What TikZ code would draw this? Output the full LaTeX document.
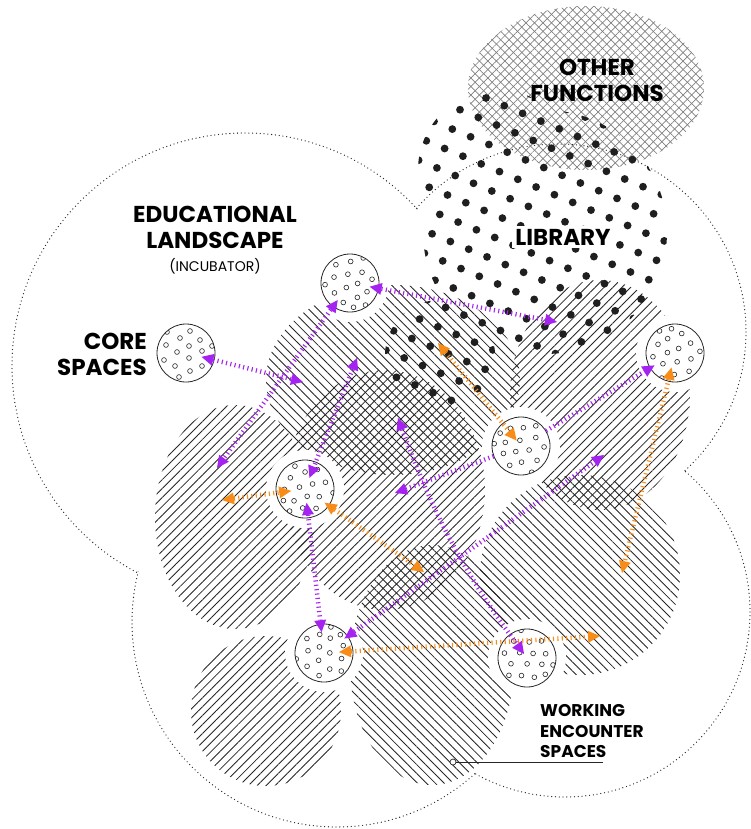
\documentclass[tikz,border=0pt]{standalone}
\usepackage{fontspec}
\setmainfont{Poppins}
\usetikzlibrary{arrows.meta, patterns.meta}

\definecolor{LinkViolet}{RGB}{165,35,240}
\definecolor{LinkOrange}{RGB}{247,140,25}
\colorlet{HatchLine}{black!85}

\tikzset{
  outline/.style={draw=black!85, line width=1.3pt, dash pattern=on 0pt off 3.8pt, line cap=round},
  ne hatch/.style={pattern={Lines[angle=45,distance=6.3pt,line width=0.85pt]}, pattern color=HatchLine},
  nw hatch/.style={pattern={Lines[angle=-45,distance=6.3pt,line width=0.85pt]}, pattern color=HatchLine},
  grid hatch/.style={pattern={Lines[angle=#1,distance=6pt,line width=0.7pt]}, pattern color=black!50},
  core/.style={circle, draw=black!85, line width=0.8pt, fill=white, minimum size=58pt, inner sep=0pt,
    preaction={draw=white, line width=20pt},
    path picture={
      \foreach \a/\b in {-19/-21,-6/-15,4/-22,14/-13,-20/-8,-9/-1,3/-7,16/-2,26/-7,-22/7,-11/13,3/5,16/13,24/5,-7/24,4/18}
        \draw[line width=0.6pt] (path picture bounding box.center)
          ++({\a*cos(#1)-\b*sin(#1)},{\a*sin(#1)+\b*cos(#1)}) circle (2.4);
    }},
  core/.default=0,
  violet link/.style={draw=LinkViolet, line width=4.5pt, dash pattern=on 1.1pt off 3.3pt},
  orange link/.style={draw=LinkOrange, line width=4.5pt, dash pattern=on 1.1pt off 3.3pt},
  big label/.style={font=\bfseries\fontsize{23}{26}\selectfont, align=center, inner sep=0pt},
}

\begin{document}
\begin{tikzpicture}[x=1pt, y=-1pt, >={Triangle[length=12pt,width=12pt,line width=0pt]}]
\useasboundingbox (0,0) rectangle (751,829);

% educational landscape outline
\draw[outline] (245,366) circle (233) (558,332) circle (188)
  (565,612) circle (185) (337,622) circle (205);
\fill[white] (245,366) circle (231.5) (558,332) circle (186.5)
  (565,612) circle (183.5) (337,622) circle (203.5);

% other functions
\fill[grid hatch=45] (586,88) ellipse [x radius=118, y radius=82];
\fill[grid hatch=-45] (586,88) ellipse [x radius=118, y radius=82];

% working encounter spaces
\fill[ne hatch] (235,517) ellipse [x radius=80, y radius=112];
\fill[ne hatch] (266,711) circle (75);
\fill[ne hatch] (385,490) ellipse [x radius=100, y radius=120];
\fill[ne hatch] (600,395) ellipse [x radius=90, y radius=115];
\fill[nw hatch] (393,380) ellipse [x radius=127, y radius=95];
\fill[nw hatch] (580,575) circle (100);
\fill[nw hatch] (432,665) ellipse [x radius=82, y radius=120];

% library
\begin{scope}
  \clip (545,232) circle (122) (498,170) circle (80) (440,355) circle (55);
  \foreach \i in {-8,...,14}
    \foreach \j in {-4,...,17}
      \fill[black!88] ({486+18.3*\i-7.7*\j},{98+7.7*\i+19.4*\j}) circle (3.9);
\end{scope}

% labels
\node[big label] (other) at (597,80) {OTHER\\FUNCTIONS};
\node[big label, fill=white, inner sep=3pt] (library) at (563,237) {LIBRARY};
\node[big label] (edu) at (215,227) {EDUCATIONAL\\LANDSCAPE};
\node[font=\fontsize{14}{16}\selectfont, inner sep=0pt] (incubator) at (215,266) {(INCUBATOR)};
\node[big label, align=right, anchor=east] (corelbl) at (147,354) {CORE\\SPACES};
\node[font=\bfseries\fontsize{17}{20.5}\selectfont, align=left, anchor=west, inner sep=0pt]
  (worklbl) at (540,731) {WORKING\\ENCOUNTER\\SPACES};
\node[circle, draw=black!85, fill=white, line width=0.7pt, minimum size=6pt, inner sep=0pt] (ptr) at (453,762) {};
\coordinate (ptrend) at (603,762);
\draw[black!85, line width=1pt] (ptr) -- (ptrend);

% core spaces
\node[core] (c1) at (186,353) {};
\node[core=70] (c2) at (350,283) {};
\node[core=140] (c3) at (305,489) {};
\node[core=200] (c4) at (521,446) {};
\node[core=250] (c5) at (675,353) {};
\node[core=300] (c6) at (324,653) {};
\node[core=30] (c7) at (527,658) {};

% link ends
\coordinate (v1) at (303,382);
\coordinate (v2) at (217,468);
\coordinate (v3) at (557,322);
\coordinate (v4) at (357,358);
\coordinate (v5) at (398,418);
\coordinate (v6) at (395,493);
\coordinate (v8) at (604,455);
\coordinate (o1) at (222,500);
\coordinate (o2) at (424,572);
\coordinate (o3) at (438,343);
\coordinate (o4) at (622,573);
\coordinate (o5) at (600,636);

% links
\draw[violet link, <->, shorten <=16pt] (c1.center) -- (v1);
\draw[violet link, <->, shorten <=21pt] (c2.center) -- (v2);
\draw[violet link, <->, shorten <=20pt] (c2.center) -- (v3);
\draw[violet link, <->, shorten >=12pt] (v4) -- (c3.center);
\draw[violet link, <->, shorten >=5pt] (v5) to[bend right=8] (c7.center);
\draw[violet link, ->] (c4) -- (v6);
\draw[violet link, ->, shorten >=24pt] (c4) -- (c5.center);
\draw[violet link, <->, shorten <=25pt] (c6.center) -- (v8);
\draw[violet link, <->, shorten <=14pt, shorten >=21pt] (c3.center) -- (c6.center);

\draw[orange link, <->, shorten >=14pt] (o1) -- (c3.center);
\draw[orange link, <->, shorten <=24pt] (c3.center) -- (o2);
\draw[orange link, <->, shorten >=7pt] (o3) -- (c4.center);
\draw[orange link, <->, shorten <=15pt] (c5.center) -- (o4);
\draw[orange link, <->, shorten <=15pt] (c6.center) -- (o5);

\end{tikzpicture}
\end{document}
